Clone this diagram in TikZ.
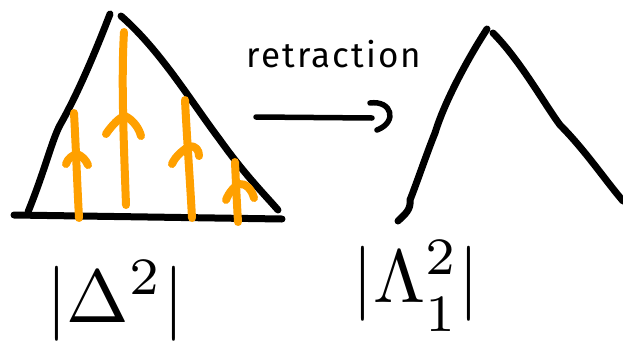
\documentclass[tikz,border=0pt]{standalone}
\usepackage{fontspec}
\usepackage{graphicx}
\newfontfamily\hand[LetterSpace=6]{Fira Sans}
\begin{document}
\begin{tikzpicture}[x=1pt,y=-1pt,
  ink/.style={line width=7pt,line cap=round,line join=round,black},
  orng/.style={line width=8pt,line cap=round,line join=round,color={rgb,255:red,255;green,160;blue,0}},
  wing/.style={line width=8pt,line cap=round,line join=round,color={rgb,255:red,255;green,160;blue,0}}]
\useasboundingbox (0,0) rectangle (623,351);
% left triangle
\coordinate (A1) at (110,14);
\coordinate (A2) at (121,16);
\coordinate (BL) at (28,212);
\coordinate (BR) at (278,210);
\draw[ink] (BL) .. controls (45,170) and (52,140) .. (60,125) .. controls (80,90) and (100,40) .. (A1);
\draw[ink] (A2) .. controls (160,50) and (190,100) .. (220,140) .. controls (245,175) and (265,195) .. (BR);
\coordinate (b1) at (14,215);
\coordinate (b2) at (282,219);
\draw[ink] (b1) -- (b2);
% orange arrows
\coordinate (o1a) at (74,113); \coordinate (o1b) at (79,218);
\draw[orng] (o1a) .. controls (76,150) and (77,180) .. (o1b);
\draw[wing] (66,164) .. controls (68,158) and (73,155) .. (77,154) .. controls (82,156) and (86,160) .. (88,165);
\coordinate (o2a) at (124,32); \coordinate (o2b) at (126,205);
\draw[orng] (o2a) .. controls (121,80) and (124,150) .. (o2b);
\draw[wing] (106,134) .. controls (112,125) and (120,117) .. (125,116) .. controls (133,120) and (139,128) .. (141,136);
\coordinate (o3a) at (185,100); \coordinate (o3b) at (192,218);
\draw[orng] (o3a) .. controls (187,140) and (190,180) .. (o3b);
\draw[wing] (172,164) .. controls (176,155) and (184,150) .. (189,146) .. controls (196,146) and (199,150) .. (199,156);
\coordinate (o4a) at (235,162); \coordinate (o4b) at (238,222);
\draw[orng] (o4a) .. controls (236,185) and (237,205) .. (o4b);
\draw[wing] (226,200) .. controls (229,192) and (235,186) .. (239,184) .. controls (246,183) and (252,190) .. (254,198);
% right horn
\coordinate (R1) at (487,29);
\coordinate (R2) at (493,33);
\coordinate (RL) at (398,221);
\coordinate (RR) at (623,201);
\draw[ink] (RL) .. controls (405,214) and (411,210) .. (410,200) .. controls (416,185) and (428,150) .. (435,133) .. controls (445,100) and (470,55) .. (R1);
\draw[ink] (R2) .. controls (520,60) and (545,105) .. (560,125) .. controls (585,150) and (605,180) .. (RR);
% retraction arrow
\coordinate (r1) at (256,117);
\coordinate (r2) at (372,118);
\coordinate (h1) at (370,103);
\coordinate (h2) at (377,130);
\draw[ink,line width=5.5pt] (r1) -- (r2);
\draw[ink,line width=5.5pt] (h1) .. controls (392,100) and (398,122) .. (h2);
\node[font={\hand\fontsize{35}{35}\selectfont}, anchor=base] (ret) at (334,67) {retraction};
% labels
\node[anchor=base] (L) at (115,322) {\scalebox{7.5}{$|\Delta^2|$}};
\node[anchor=base] (R) at (416,302) {\scalebox{7.5}{$|\Lambda^{2}_{\raisebox{-1.5pt}{$\scriptstyle 1$}}|$}};
\end{tikzpicture}
\end{document}
